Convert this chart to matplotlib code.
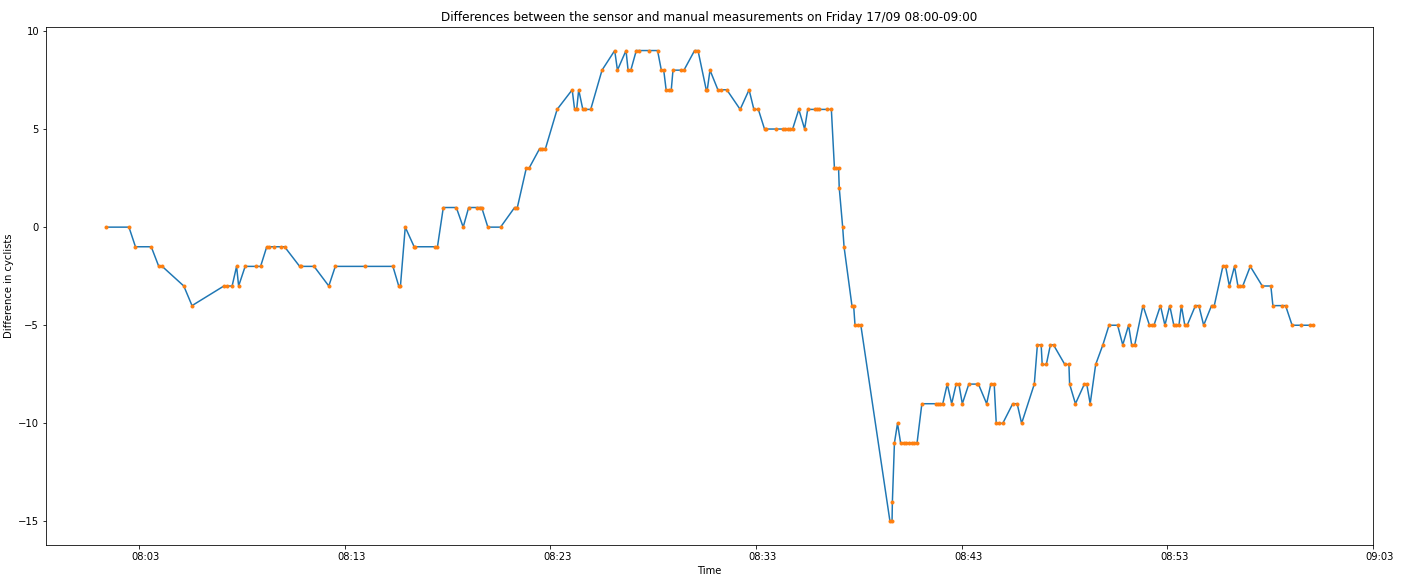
import matplotlib
matplotlib.use("Agg")
import matplotlib.pyplot as plt
import matplotlib.dates as mdates
import matplotlib.transforms as mtransforms
import pandas as pd

# measurement times (08:MM:SS) and sensor - manual difference
times = ["01:25","02:31","02:50","03:36","03:58","04:08","05:11","05:35","07:08","07:17",
         "07:32","07:45","07:51","08:10","08:41","08:55","09:13","09:21","09:33","09:55",
         "10:05","10:49","10:54","11:31","12:14","12:33","14:01","15:21","15:38","15:43",
         "15:57","16:23","16:26","17:25","17:31","17:48","18:26","18:46","19:02","19:26",
         "19:34","19:40","19:58","20:35","21:16","21:24","21:50","21:58","22:29","22:37",
         "22:46","23:20","24:04","24:11","24:17","24:23","24:35","24:42","24:58","25:31",
         "26:08","26:16","26:41","26:47","26:55","27:11","27:19","27:49","28:13","28:24",
         "28:31","28:38","28:46","28:53","28:58","29:22","29:30","30:01","30:11","30:35",
         "30:38","30:46","31:09","31:19","31:35","32:14","32:40","32:54","33:07","33:25",
         "33:30","33:59","34:19","34:26","34:33","34:40","34:47","35:05","35:22","35:31",
         "35:51","35:58","36:05","36:27","36:40","36:49","36:54","37:01","37:03","37:13",
         "37:17","37:40","37:45","37:49","37:57","38:06","39:31","39:37","39:38","39:44",
         "39:53","40:02","40:11","40:19","40:26","40:34","40:42","40:50","41:04","41:44",
         "41:50","41:58","42:05","42:18","42:31","42:44","42:52","43:02","43:21","43:44",
         "43:49","44:13","44:25","44:35","44:41","44:50","45:00","45:29","45:42","45:55",
         "46:32","46:41","46:52","46:55","47:07","47:19","47:28","48:01","48:13","48:15",
         "48:32","48:58","49:05","49:15","49:31","49:52","50:10","50:35","50:50","51:07",
         "51:16","51:25","51:49","52:08","52:15","52:21","52:40","52:53","53:07","53:19",
         "53:26","53:34","53:41","53:51","53:58","54:22","54:32","54:46","55:09","55:17",
         "55:42","55:50","56:01","56:16","56:26","56:33","56:40","57:02","57:37","58:02",
         "58:08","58:35","58:45","59:04","59:31","59:57"]
diffs = [0,0,-1,-1,-2,-2,-3,-4,-3,-3,
         -3,-2,-3,-2,-2,-2,-1,-1,-1,-1,
         -1,-2,-2,-2,-3,-2,-2,-2,-3,-3,
         0,-1,-1,-1,-1,1,1,0,1,1,
         1,1,0,0,1,1,3,3,4,4,
         4,6,7,6,6,7,6,6,6,8,
         9,8,9,8,8,9,9,9,9,8,
         8,7,7,7,8,8,8,9,9,7,
         7,8,7,7,7,6,7,6,6,5,
         5,5,5,5,5,5,5,6,5,6,
         6,6,6,6,6,3,3,3,2,0,
         -1,-4,-4,-5,-5,-5,-15,-15,-14,-11,
         -10,-11,-11,-11,-11,-11,-11,-11,-9,-9,
         -9,-9,-9,-8,-9,-8,-8,-9,-8,-8,
         -8,-9,-8,-8,-10,-10,-10,-9,-9,-10,
         -8,-6,-6,-7,-7,-6,-6,-7,-7,-8,
         -9,-8,-8,-9,-7,-6,-5,-5,-6,-5,
         -6,-6,-4,-5,-5,-5,-4,-5,-4,-5,
         -5,-5,-4,-5,-5,-4,-4,-5,-4,-4,
         -2,-2,-3,-2,-3,-3,-3,-2,-3,-3,
         -4,-4,-4,-5,-5,-5]
last_time = "09:00:04"
last_diff = -5

stamps = pd.to_datetime(["2021-09-17 08:" + t for t in times] + ["2021-09-17 " + last_time])
values = diffs + [last_diff]

fig = plt.figure(figsize=(1415/72, 575/72), dpi=72)
ax = fig.add_axes([46/1415, 30/575, 1327/1415, 518/575])
ax.plot(stamps, values)
ax.plot(stamps, values, '.')
ticks = pd.date_range("2021-09-17 08:03", "2021-09-17 09:03", freq="10min")
ax.set_xticks(ticks)
ax.xaxis.set_major_formatter(mdates.DateFormatter('%H:%M'))
# labels sit a little right of their ticks in the original
shift = mtransforms.ScaledTranslation(7/72, 0, fig.dpi_scale_trans)
for lab in ax.get_xticklabels():
    lab.set_transform(lab.get_transform() + shift)
ax.set_title("Differences between the sensor and manual measurements on Friday 17/09 08:00-09:00")
ax.set_xlabel("Time")
ax.set_ylabel("Difference in cyclists")
fig.savefig("out.png", dpi=72)
